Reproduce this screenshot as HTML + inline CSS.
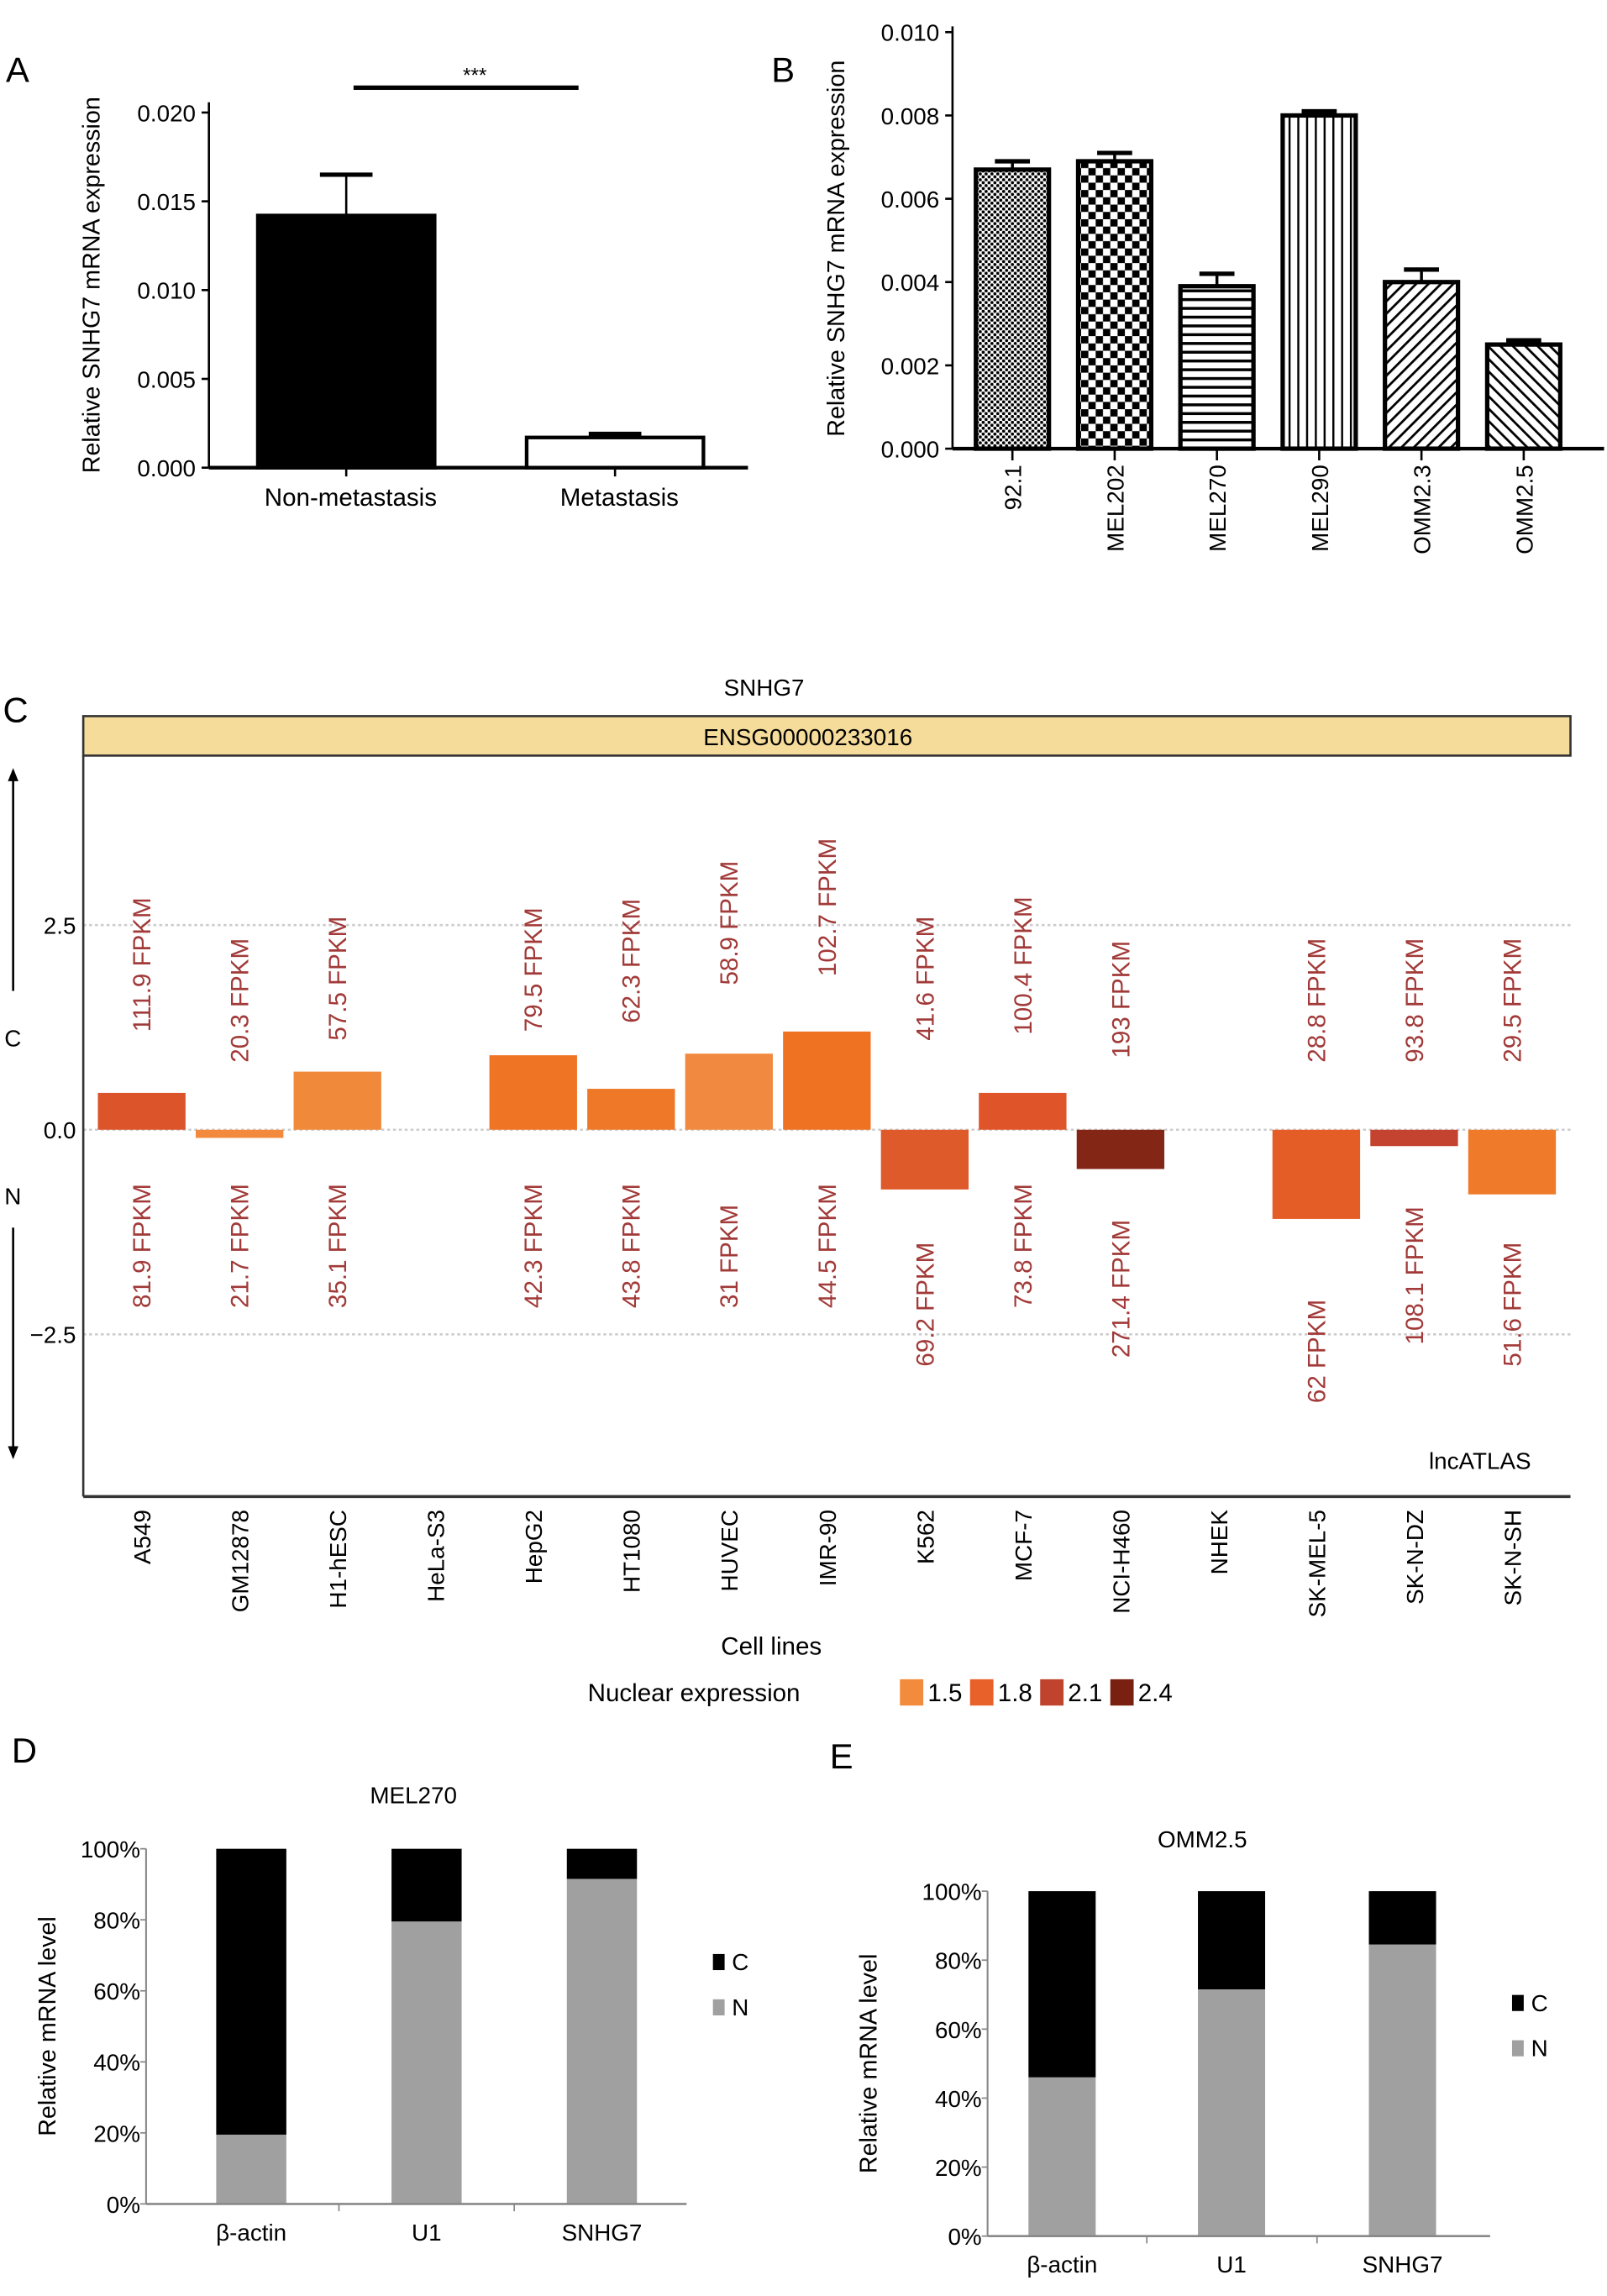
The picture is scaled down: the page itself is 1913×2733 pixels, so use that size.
<!DOCTYPE html>
<html><head><meta charset="utf-8"><style>
html,body{margin:0;padding:0;background:#fff;}
svg{display:block;font-family:"Liberation Sans",sans-serif;}
</style></head><body>
<svg id="fig" width="1913" height="2733" viewBox="0 0 1100 1571" preserveAspectRatio="none" xmlns="http://www.w3.org/2000/svg">
<defs>
<pattern id="p0" width="4" height="4" patternUnits="userSpaceOnUse"><rect width="4" height="4" fill="#fff"/><circle cx="1" cy="1" r="1.1" fill="#000"/><circle cx="3" cy="3" r="1.1" fill="#000"/></pattern>
<pattern id="p1" width="10" height="10" patternUnits="userSpaceOnUse"><rect width="10" height="10" fill="#fff"/><rect width="5" height="5" fill="#000"/><rect x="5" y="5" width="5" height="5" fill="#000"/></pattern>
<pattern id="p2" width="6" height="6" patternUnits="userSpaceOnUse"><rect width="6" height="6" fill="#fff"/><rect width="6" height="2" fill="#000"/></pattern>
<pattern id="p3" width="6" height="6" patternUnits="userSpaceOnUse"><rect width="6" height="6" fill="#fff"/><rect width="1.4" height="6" fill="#000"/></pattern>
<pattern id="p4" width="6" height="6" patternUnits="userSpaceOnUse" patternTransform="rotate(45)"><rect width="6" height="6" fill="#fff"/><rect width="1.6" height="6" fill="#000"/></pattern>
<pattern id="p5" width="6" height="6" patternUnits="userSpaceOnUse" patternTransform="rotate(-45)"><rect width="6" height="6" fill="#fff"/><rect width="1.6" height="6" fill="#000"/></pattern>
<marker id="arr" viewBox="0 0 10 10" refX="5" refY="5" markerWidth="6" markerHeight="6" orient="auto"><path d="M0,1 L10,5 L0,9 z" fill="#000"/></marker>
</defs>
<g id="gA"></g><g id="gB"></g><g id="gC"></g><g id="gD"></g><g id="gE"></g>
</svg>
<script>
// Panel A data
const aCats = ["Non-metastasis","Metastasis"];
const aVals = [0.0142,0.0017];
const aErr = [0.0165,0.0019];
const aTicks = [0,0.005,0.010,0.015,0.020];
const aTickLabels = ["0.000","0.005","0.010","0.015","0.020"];
// Panel B data
const bCats = ["92.1","MEL202","MEL270","MEL290","OMM2.3","OMM2.5"];
const bVals = [0.0067,0.0069,0.0039,0.0080,0.0040,0.0025];
const bErr = [0.0069,0.0071,0.0042,0.0081,0.0043,0.0026];
const bTicks = [0,0.002,0.004,0.006,0.008,0.010];
const bTickLabels = ["0.000","0.002","0.004","0.006","0.008","0.010"];
// Panel C data
const cCats = ["A549","GM12878","H1-hESC","HeLa-S3","HepG2","HT1080","HUVEC","IMR-90","K562","MCF-7","NCI-H460","NHEK","SK-MEL-5","SK-N-DZ","SK-N-SH"];
const cVals = [0.45,-0.1,0.71,null,0.91,0.5,0.93,1.2,-0.73,0.45,-0.48,null,-1.09,-0.2,-0.79];
const cColors = ["#dc5429","#f2893c","#f08a3a",null,"#ef7525","#ef7828","#f18a40","#ef7222","#df5a2a","#df5428","#842616",null,"#e55d26","#c44330","#ef7a2a"];
const cTop = ["111.9 FPKM","20.3 FPKM","57.5 FPKM","","79.5 FPKM","62.3 FPKM","58.9 FPKM","102.7 FPKM","41.6 FPKM","100.4 FPKM","193 FPKM","","28.8 FPKM","93.8 FPKM","29.5 FPKM"];
const cBot = ["81.9 FPKM","21.7 FPKM","35.1 FPKM","","42.3 FPKM","43.8 FPKM","31 FPKM","44.5 FPKM","69.2 FPKM","73.8 FPKM","271.4 FPKM","","62 FPKM","108.1 FPKM","51.6 FPKM"];
const cTicks = [2.5,0,-2.5];
const cTickLabels = ["2.5","0.0","\u22122.5"];
const legVals = ["1.5","1.8","2.1","2.4"];
const legColors = ["#f28c3c","#e8602a","#c0432e","#7a2010"];
// Panel D/E data
const dCats = ["\u03b2-actin","U1","SNHG7"];
const dN = [0.195,0.795,0.915];
const eN = [0.46,0.715,0.845];
const pctTicks = [0,0.2,0.4,0.6,0.8,1.0];
const pctLabels = ["0%","20%","40%","60%","80%","100%"];

const NS="http://www.w3.org/2000/svg";
function el(parent,tag,attrs,text){const e=document.createElementNS(NS,tag);for(const k in attrs)e.setAttribute(k,attrs[k]);if(text!==undefined)e.textContent=text;parent.appendChild(e);return e;}

// ---------- Panel A ----------
(function(){
const g=document.getElementById('gA');
const y0=320,y1=77,x0=143;
const sy=v=>y0-(v/0.020)*(y0-y1);
const cx=[237,421],bw=123;
let t=el(g,'text',{x:4,y:56,'font-size':24});t.textContent='A';


aTicks.forEach((v,i)=>{
 let l=el(g,'line',{x1:x0-5,x2:x0,y1:sy(v),y2:sy(v),stroke:'#000','stroke-width':1.5});
 
 
 let tt=el(g,'text',{x:x0-9,y:sy(v)+6,'font-size':16,'text-anchor':'end'},aTickLabels[i]);
 
 
});
aVals.forEach((v,i)=>{
 let e=el(g,'line',{x1:cx[i],x2:cx[i],y1:sy(v),y2:sy(aErr[i]),stroke:'#000','stroke-width':1.5});
 
 
 let c=el(g,'line',{x1:cx[i]-18,x2:cx[i]+18,y1:sy(aErr[i]),y2:sy(aErr[i]),stroke:'#000','stroke-width':3});
 
 
 let r=el(g,'rect',{x:cx[i]-bw/2+1,y:sy(v),width:bw-2,height:y0-sy(v),fill:i===0?'#000':'#fff',stroke:'#000','stroke-width':2.5});
 
 
 let tk=el(g,'line',{x1:cx[i],x2:cx[i],y1:y0,y2:y0+6,stroke:'#000','stroke-width':1.5});
 
 
 let lb=el(g,'text',{x:cx[i]+3,y:346,'font-size':17,'text-anchor':'middle'},aCats[i]);
 
 
});
let ax=el(g,'line',{x1:x0,x2:x0,y1:70,y2:y0,stroke:'#000','stroke-width':1.5});

let bx=el(g,'line',{x1:x0,x2:512,y1:y0,y2:y0,stroke:'#000','stroke-width':2.5});

let sig=el(g,'line',{x1:242,x2:396,y1:60,y2:60,stroke:'#000','stroke-width':3});

let st=el(g,'text',{x:325,y:56,'font-size':14,'text-anchor':'middle'},'***');

let yt=el(g,'text',{x:0,y:0,'font-size':16.5,'text-anchor':'middle',transform:'translate(68,195) rotate(-90)'},'Relative SNHG7 mRNA expression');

})();

// ---------- Panel B ----------
(function(){
const g=document.getElementById('gB');
const y0=307,y1=22,x0=652;
const sy=v=>y0-(v/0.010)*(y0-y1);
const pats=['p0','p1','p2','p3','p4','p5'];
const step=70,first=693,bw=50;
let t=el(g,'text',{x:528,y:56,'font-size':24},'B');

bTicks.forEach((v,i)=>{
 let l=el(g,'line',{x1:x0-5,x2:x0,y1:sy(v),y2:sy(v),stroke:'#000','stroke-width':1.5});
 
 let tt=el(g,'text',{x:x0-9,y:sy(v)+6,'font-size':16,'text-anchor':'end'},bTickLabels[i]);
 
});
bVals.forEach((v,i)=>{
 const cx=first+i*step;
 let e=el(g,'line',{x1:cx,x2:cx,y1:sy(v),y2:sy(bErr[i]),stroke:'#000','stroke-width':2});
 
 let c=el(g,'line',{x1:cx-12,x2:cx+12,y1:sy(bErr[i]),y2:sy(bErr[i]),stroke:'#000','stroke-width':3});
 
 let r=el(g,'rect',{x:cx-bw/2,y:sy(v),width:bw,height:y0-sy(v),fill:'url(#'+pats[i]+')',stroke:'#000','stroke-width':3});
 
 let tk=el(g,'line',{x1:cx,x2:cx,y1:y0,y2:y0+8,stroke:'#000','stroke-width':1.5});
 
 let lb=el(g,'text',{x:0,y:0,'font-size':16,'text-anchor':'end',transform:'translate('+(cx+6)+',318) rotate(-90)'},bCats[i]);
 
});
let ax=el(g,'line',{x1:x0,x2:x0,y1:18,y2:y0,stroke:'#000','stroke-width':1.5});

let bx=el(g,'line',{x1:x0,x2:1098,y1:y0,y2:y0,stroke:'#000','stroke-width':2.5});

let yt=el(g,'text',{x:0,y:0,'font-size':16.5,'text-anchor':'middle',transform:'translate(578,170) rotate(-90)'},'Relative SNHG7 mRNA expression');

})();

// ---------- Panel C ----------
(function(){
const g=document.getElementById('gC');
const zero=773,ppu=56,left=57,right=1075,bottom=1024,top=517;
const sy=v=>zero-v*ppu;
const step=67,first=97,bw=60;
const topStart=[706,727,712,0,706,700,674,668,712,708,724,0,727,727,727];
const botStart=[895,895,895,0,895,895,895,895,935,895,929,0,960,920,935];
let t=el(g,'text',{x:2,y:494,'font-size':24},'C');

let ti=el(g,'text',{x:523,y:476,'font-size':16,'text-anchor':'middle'},'SNHG7');

let hb=el(g,'rect',{x:left,y:490,width:right-left,height:27,fill:'#f6dc9a',stroke:'#333','stroke-width':1.5});

let ht=el(g,'text',{x:553,y:510,'font-size':16,'text-anchor':'middle'},'ENSG00000233016');

cTicks.forEach((v,i)=>{
 let gl=el(g,'line',{x1:left,x2:right,y1:sy(v),y2:sy(v),stroke:'#ccc','stroke-width':1.5,'stroke-dasharray':'2,2'});
 
 let tt=el(g,'text',{x:52,y:sy(v)+6,'font-size':16,'text-anchor':'end'},cTickLabels[i]);
 
});
cCats.forEach((c,i)=>{
 const cx=first+i*step;
 const v=cVals[i];
 if(v!==null){
  let r=el(g,'rect',{x:cx-bw/2,y:Math.min(sy(v),zero),width:bw,height:Math.abs(v)*ppu,fill:cColors[i]});
  
 }
 if(cTop[i]){
  let a=el(g,'text',{x:0,y:0,'font-size':17,fill:'#a13a38','text-anchor':'start',transform:'translate('+(cx+6)+','+topStart[i]+') rotate(-90)'},cTop[i]);
  
  let b=el(g,'text',{x:0,y:0,'font-size':17,fill:'#a13a38','text-anchor':'start',transform:'translate('+(cx+6)+','+botStart[i]+') rotate(-90)'},cBot[i]);
  
 }
 let lb=el(g,'text',{x:0,y:0,'font-size':16,'text-anchor':'end',transform:'translate('+(cx+6)+',1033) rotate(-90)'},c);
 
});
let ax=el(g,'line',{x1:left,x2:left,y1:top,y2:bottom,stroke:'#333','stroke-width':1.5});

let bx=el(g,'line',{x1:left,x2:right,y1:bottom,y2:bottom,stroke:'#333','stroke-width':2});

let au=el(g,'line',{x1:9,x2:9,y1:678,y2:530,stroke:'#000','stroke-width':1.5,'marker-end':'url(#arr)'});

let ad=el(g,'line',{x1:9,x2:9,y1:840,y2:994,stroke:'#000','stroke-width':1.5,'marker-end':'url(#arr)'});

let lc=el(g,'text',{x:3,y:716,'font-size':16},'C');

let ln=el(g,'text',{x:3,y:824,'font-size':16},'N');

let lat=el(g,'text',{x:1048,y:1005,'font-size':16,'text-anchor':'end'},'lncATLAS');

let xt=el(g,'text',{x:528,y:1132,'font-size':17,'text-anchor':'middle'},'Cell lines');

let lt=el(g,'text',{x:475,y:1164,'font-size':17,'text-anchor':'middle'},'Nuclear expression');

legVals.forEach((v,i)=>{
 const x=616+i*48;
 let s=el(g,'rect',{x:x,y:1149,width:16,height:18,fill:legColors[i]});
 
 let tx=el(g,'text',{x:x+19,y:1164,'font-size':17},v);
 
});
})();

// ---------- Panels D & E ----------
function stacked(gid,letter,lx,ly,title,tx,tyy,x0,y0,y100,xEnd,centers,bw,nVals,legX,legY,ytX,prefix){
 const g=document.getElementById(gid);
 const sy=v=>y0-v*(y0-y100);
 let t=el(g,'text',{x:lx,y:ly,'font-size':24},letter);
 
 let tl=el(g,'text',{x:tx,y:tyy,'font-size':16,'text-anchor':'middle'},title);
 
 pctTicks.forEach((v,i)=>{
  let l=el(g,'line',{x1:x0-4,x2:x0,y1:sy(v),y2:sy(v),stroke:'#888','stroke-width':1});
  
  let tt=el(g,'text',{x:x0-4,y:sy(v)+6,'font-size':16,'text-anchor':'end'},pctLabels[i]);
  
 });
 nVals.forEach((v,i)=>{
  const cx=centers[i];
  let c=el(g,'rect',{x:cx-bw/2,y:sy(1),width:bw,height:sy(v)-sy(1),fill:'#000'});
  
  let n=el(g,'rect',{x:cx-bw/2,y:sy(v),width:bw,height:y0-sy(v),fill:'#a0a0a0'});
  
  let lb=el(g,'text',{x:cx,y:y0+25,'font-size':16,'text-anchor':'middle'},dCats[i]);
  
  if(i>0){const sx=(centers[i-1]+cx)/2;
   let sp=el(g,'line',{x1:sx,x2:sx,y1:y0,y2:y0+5,stroke:'#888','stroke-width':1});
   }
 });
 let ax=el(g,'line',{x1:x0,x2:x0,y1:y100,y2:y0,stroke:'#888','stroke-width':1.2});
 
 let bx=el(g,'line',{x1:x0,x2:xEnd,y1:y0,y2:y0,stroke:'#888','stroke-width':1.5});
 
 let s1=el(g,'rect',{x:legX,y:legY-11,width:8,height:11,fill:'#000'});
 
 let t1=el(g,'text',{x:legX+13,y:legY,'font-size':16},'C');
 
 let s2=el(g,'rect',{x:legX,y:legY+20,width:8,height:11,fill:'#a0a0a0'});
 
 let t2=el(g,'text',{x:legX+13,y:legY+31,'font-size':16},'N');
 
 let yt=el(g,'text',{x:0,y:0,'font-size':16.5,'text-anchor':'middle',transform:'translate('+ytX+','+((y0+y100)/2)+') rotate(-90)'},'Relative mRNA level');
 
}
stacked('gD','D',8,1206,'MEL270',283,1234,100,1508,1265,470,[172,292,412],48,dN,488,1348,38,'d');
stacked('gE','E',568,1210,'OMM2.5',823,1264,676,1530,1294,1020,[727,843,960],46,eN,1035,1376,600,'e');
</script>
</body></html>
